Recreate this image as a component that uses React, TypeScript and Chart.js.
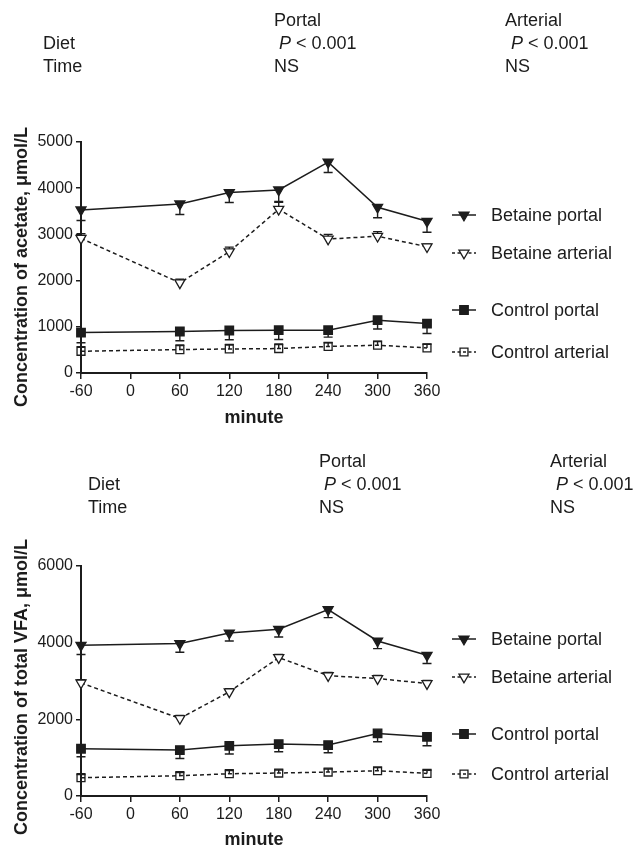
import React, { useEffect, useRef } from "react";
import { Chart, registerables } from "chart.js";

Chart.register(...registerables);

// ---------- data ----------
const minutes = [-60, 60, 120, 180, 240, 300, 360];
const xTicks = [-60, 0, 60, 120, 180, 240, 300, 360];

const seriesNames = ["Betaine portal", "Betaine arterial", "Control portal", "Control arterial"];

// Acetate (µmol/L)
const betPortalAc = [3530, 3660, 3905, 3963, 4564, 3588, 3285];
const betPortalAcErr = [230, 230, 215, 250, 224, 226, 238];
const betArtAc = [2915, 1952, 2625, 3544, 2900, 2960, 2733];
const betArtAcErr = [100, 80, 100, 150, 100, 100, 60];
const ctlPortalAc = [876, 898, 920, 926, 926, 1143, 1071];
const ctlPortalAcErr = [220, 200, 200, 200, 150, 190, 216];
const ctlArtAc = [470, 507, 520, 529, 575, 601, 543];
const ctlArtAcErr = [100, 100, 100, 100, 80, 80, 80];

// Total VFA (µmol/L)
const betPortalVfa = [3932, 3976, 4253, 4349, 4862, 4045, 3672];
const betPortalVfaErr = [240, 226, 209, 200, 209, 200, 217];
const betArtVfa = [2951, 2023, 2717, 3611, 3140, 3064, 2934];
const betArtVfaErr = [80, 80, 80, 80, 80, 80, 80];
const ctlPortalVfa = [1233, 1198, 1310, 1354, 1328, 1632, 1545];
const ctlPortalVfaErr = [209, 218, 216, 200, 200, 217, 234];
const ctlArtVfa = [477, 529, 581, 599, 625, 659, 590];
const ctlArtVfaErr = [80, 80, 80, 80, 80, 80, 80];

const acetateTicksMax = 5000;
const acetateStep = 1000;
const vfaTicksMax = 6000;
const vfaStep = 2000;

// ---------- styling ----------
const INK = "#1c1c1c";
const FONT = '"Liberation Sans", Arial, Helvetica, sans-serif';

type SeriesStyle = { point: "tri" | "rect"; filled: boolean; dashed: boolean; radius: number; errDir: 1 | -1 };
const styles: SeriesStyle[] = [
  { point: "tri", filled: true, dashed: false, radius: 5.8, errDir: -1 },
  { point: "tri", filled: false, dashed: true, radius: 5.8, errDir: 1 },
  { point: "rect", filled: true, dashed: false, radius: 6, errDir: -1 },
  { point: "rect", filled: false, dashed: true, radius: 5.6, errDir: 1 },
];

function drawMarker(ctx: CanvasRenderingContext2D, st: SeriesStyle, x: number, y: number) {
  const r = st.radius;
  ctx.beginPath();
  if (st.point === "tri") {
    ctx.moveTo(x, y + r);
    ctx.lineTo(x - (r * Math.sqrt(3)) / 2, y - r / 2);
    ctx.lineTo(x + (r * Math.sqrt(3)) / 2, y - r / 2);
    ctx.closePath();
  } else {
    const s = r / Math.SQRT2;
    ctx.rect(x - s, y - s, 2 * s, 2 * s);
  }
  ctx.fillStyle = st.filled ? INK : "#ffffff";
  if (st.filled || st.point === "tri") ctx.fill();
  ctx.lineWidth = 1.3;
  ctx.strokeStyle = INK;
  ctx.setLineDash([]);
  ctx.stroke();
}

type Cfg = {
  values: number[][];
  errors: number[][];
  legendY: number[];
  yTitle: string;
  yTitleBottom: number;
  xTitleY: number;
};

function makePlugin(cfg: Cfg) {
  return {
    id: "overlay",
    beforeDatasetsDraw(chart: any) {
      const ctx: CanvasRenderingContext2D = chart.ctx;
      const ys = chart.scales.y;
      ctx.save();
      ctx.strokeStyle = INK;
      ctx.lineWidth = 1.4;
      ctx.setLineDash([]);
      cfg.values.forEach((vals, di) => {
        const meta = chart.getDatasetMeta(di);
        const st = styles[di];
        vals.forEach((v, i) => {
          const el = meta.data[i];
          if (!el) return;
          const x = el.x;
          const y0 = ys.getPixelForValue(v);
          const y1 = ys.getPixelForValue(v + st.errDir * cfg.errors[di][i]);
          ctx.beginPath();
          ctx.moveTo(x, y0);
          ctx.lineTo(x, y1);
          ctx.moveTo(x - 4.5, y1);
          ctx.lineTo(x + 4.5, y1);
          ctx.stroke();
        });
      });
      ctx.restore();
    },
    afterDraw(chart: any) {
      const ctx: CanvasRenderingContext2D = chart.ctx;
      ctx.save();
      // legend
      const lx0 = 452;
      const lx1 = 476;
      const mx = 464;
      const tx = 491;
      ctx.font = `18px ${FONT}`;
      ctx.textBaseline = "middle";
      ctx.textAlign = "left";
      seriesNames.forEach((name, i) => {
        const st = styles[i];
        const y = cfg.legendY[i];
        ctx.beginPath();
        ctx.strokeStyle = INK;
        ctx.lineWidth = 1.5;
        ctx.setLineDash(st.dashed ? [3, 2.5] : []);
        ctx.moveTo(lx0, y);
        ctx.lineTo(lx1, y);
        ctx.stroke();
        drawMarker(ctx, st, mx, y);
        ctx.fillStyle = INK;
        ctx.fillText(name, tx, y + 1);
      });
      // axis titles
      ctx.fillStyle = INK;
      ctx.font = `bold 18px ${FONT}`;
      ctx.textAlign = "center";
      ctx.textBaseline = "middle";
      const area = chart.chartArea;
      ctx.fillText("minute", (area.left + area.right) / 2, cfg.xTitleY);
      ctx.translate(22, cfg.yTitleBottom);
      ctx.rotate(-Math.PI / 2);
      ctx.textAlign = "left";
      ctx.fillText(cfg.yTitle, 0, 0);
      ctx.restore();
    },
  };
}

function buildChart(
  canvas: HTMLCanvasElement,
  cfg: Cfg,
  yMax: number,
  yStep: number,
  padTop: number,
  xHeight: number
) {
  const datasets = cfg.values.map((vals, di) => {
    const st = styles[di];
    return {
      label: seriesNames[di],
      data: minutes.map((m, i) => ({ x: m, y: vals[i] })),
      borderColor: INK,
      borderWidth: 1.5,
      borderDash: st.dashed ? [4, 3] : [],
      backgroundColor: st.filled ? INK : st.point === "tri" ? "#ffffff" : "rgba(0,0,0,0)",
      pointStyle: st.point === "tri" ? "triangle" : "rect",
      pointRotation: st.point === "tri" ? 180 : 0,
      pointRadius: st.radius,
      pointBorderWidth: 1.3,
      pointBorderColor: INK,
      pointBackgroundColor: st.filled ? INK : st.point === "tri" ? "#ffffff" : "rgba(0,0,0,0)",
      tension: 0,
      fill: false,
      clip: false as any,
    };
  });
  return new Chart(canvas, {
    type: "line",
    data: { datasets: datasets as any },
    options: {
      animation: false,
      responsive: false,
      devicePixelRatio: 1,
      layout: { padding: { left: 0, right: 212, top: padTop, bottom: 0 } },
      plugins: { legend: { display: false }, tooltip: { enabled: false }, title: { display: false } },
      scales: {
        x: {
          type: "linear",
          min: -60,
          max: 360,
          afterBuildTicks: (scale: any) => {
            scale.ticks = xTicks.map((v) => ({ value: v }));
          },
          afterFit: (scale: any) => {
            scale.height = xHeight;
          },
          grid: { display: true, drawOnChartArea: false, drawTicks: true, tickLength: 6, color: INK, lineWidth: 1.5 },
          border: { display: true, color: INK, width: 2 },
          ticks: {
            color: INK,
            font: { family: FONT, size: 16 },
            padding: 3,
            maxRotation: 0,
            autoSkip: false,
            callback: (v: any) => String(v),
          },
        },
        y: {
          type: "linear",
          min: 0,
          max: yMax,
          ticks: {
            stepSize: yStep,
            color: INK,
            font: { family: FONT, size: 16 },
            padding: 3,
            callback: (v: any) => String(v),
          },
          afterFit: (scale: any) => {
            scale.width = 81;
          },
          grid: { display: true, drawOnChartArea: false, drawTicks: true, tickLength: 5, color: INK, lineWidth: 1.5 },
          border: { display: true, color: INK, width: 2 },
        },
      },
    },
    plugins: [makePlugin(cfg)],
  });
}

const headerStyle = (left: number, cy: number): React.CSSProperties => ({
  position: "absolute",
  left,
  top: cy - 11,
  fontFamily: FONT,
  fontSize: 18,
  lineHeight: "22px",
  color: INK,
  whiteSpace: "pre",
});

function Header({ dx, top }: { dx: number; top: number }) {
  return (
    <>
      <div style={headerStyle(274 + dx, top)}>Portal</div>
      <div style={headerStyle(505 + dx, top)}>Arterial</div>
      <div style={headerStyle(43 + dx, top + 23)}>Diet</div>
      <div style={headerStyle(279 + dx, top + 23)}>
        <i>P</i> {"< 0.001"}
      </div>
      <div style={headerStyle(511 + dx, top + 23)}>
        <i>P</i> {"< 0.001"}
      </div>
      <div style={headerStyle(43 + dx, top + 46)}>Time</div>
      <div style={headerStyle(274 + dx, top + 46)}>NS</div>
      <div style={headerStyle(505 + dx, top + 46)}>NS</div>
    </>
  );
}

export default function App() {
  const ref1 = useRef<HTMLCanvasElement>(null);
  const ref2 = useRef<HTMLCanvasElement>(null);

  useEffect(() => {
    const c1 = buildChart(
      ref1.current!,
      {
        values: [betPortalAc, betArtAc, ctlPortalAc, ctlArtAc],
        errors: [betPortalAcErr, betArtAcErr, ctlPortalAcErr, ctlArtAcErr],
        legendY: [215, 253, 310, 352],
        yTitle: "Concentration of acetate, \u03bcmol/L",
        yTitleBottom: 407,
        xTitleY: 418,
      },
      acetateTicksMax,
      acetateStep,
      142,
      430 - 373
    );
    const c2 = buildChart(
      ref2.current!,
      {
        values: [betPortalVfa, betArtVfa, ctlPortalVfa, ctlArtVfa],
        errors: [betPortalVfaErr, betArtVfaErr, ctlPortalVfaErr, ctlArtVfaErr],
        legendY: [209, 247, 304, 344],
        yTitle: "Concentration of total VFA, \u03bcmol/L",
        yTitleBottom: 405,
        xTitleY: 410,
      },
      vfaTicksMax,
      vfaStep,
      136,
      417 - 366
    );
    return () => {
      c1.destroy();
      c2.destroy();
    };
  }, []);

  return (
    <div style={{ position: "fixed", left: 0, top: 0, width: 639, height: 847, background: "#ffffff", overflow: "hidden" }}>
      <canvas ref={ref1} width={639} height={430} style={{ position: "absolute", left: 0, top: 0, width: 639, height: 430 }} />
      <canvas ref={ref2} width={639} height={417} style={{ position: "absolute", left: 0, top: 430, width: 639, height: 417 }} />
      <Header dx={0} top={20} />
      <Header dx={45} top={461} />
    </div>
  );
}
